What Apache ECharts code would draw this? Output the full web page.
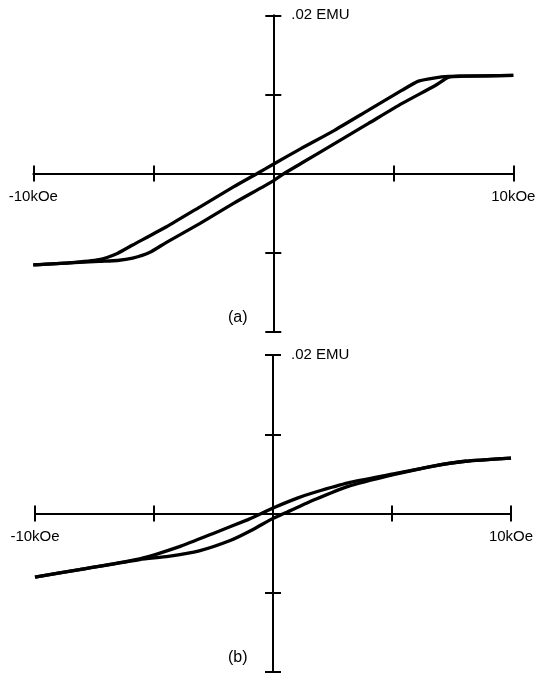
<!DOCTYPE html>
<html>
<head>
<meta charset="utf-8">
<script src="https://cdn.jsdelivr.net/npm/echarts@6/dist/echarts.min.js"></script>
<style>
html,body{margin:0;padding:0;background:#fff;}
#c{width:540px;height:673px;}
</style>
</head>
<body>
<div id="c"></div>
<script>
// Field H in kOe, moment M in EMU
const xTicks = [-10, -5, 0, 5, 10];
const xTickLabels = {'-10': '-10kOe', '10': '10kOe'};
const yTopLabel = '.02 EMU';
const panelLabels = ['(a)', '(b)'];

// Panel (a): descending (upper) branch
const aUpH = [-10, -8.5, -7.26, -6.5, -5.86, -4.45, -3.05, -1.66, -0.67, 0, 1.15, 2.55, 3.95, 5.35, 6.05, 6.75, 7.31, 7.87, 10];
const aUpM = [-0.01156, -0.0113, -0.0109, -0.0101, -0.00904, -0.00673, -0.00421, -0.00169, 0, 0.00117, 0.00315, 0.00546, 0.00798, 0.0105, 0.01168, 0.0121, 0.01227, 0.0123, 0.0124];
// Panel (a): ascending (lower) branch
const aLoH = [-10, -8.5, -7.26, -6.5, -5.86, -5.16, -4.45, -3.05, -1.66, 0, 0.45, 1.15, 2.55, 3.95, 5.35, 6.75, 7.31, 7.87, 10];
const aLoM = [-0.01156, -0.0113, -0.0111, -0.0110, -0.0107, -0.0100, -0.0087, -0.0063, -0.00378, -0.00093, 0, 0.00126, 0.00378, 0.0063, 0.00883, 0.01113, 0.01218, 0.0123, 0.0124];

// Panel (b): descending (upper) branch
const bUpH = [-10, -8.13, -5.6, -3.87, -2.46, -1.05, -0.49, 0, 1.05, 1.76, 3.16, 5.06, 6.68, 8.08, 10];
const bUpM = [-0.0080, -0.00706, -0.0057, -0.0041, -0.00244, -0.00076, 0, 0.0007, 0.00198, 0.00269, 0.00387, 0.005, 0.00597, 0.0066, 0.0070];
// Panel (b): ascending (lower) branch
const bLoH = [-10, -8.13, -5.6, -4.4, -3.1, -1.8, -0.9, 0, 0.45, 1.76, 3.16, 5.06, 6.68, 8.08, 10];
const bLoM = [-0.0080, -0.00708, -0.0058, -0.0054, -0.0047, -0.0034, -0.0021, -0.0006, 0, 0.00177, 0.00344, 0.0049, 0.00597, 0.0066, 0.0070];

const FONT = "'Liberation Sans', Arial, Helvetica, sans-serif";
const pair = (xs, ys) => xs.map((x, i) => [x, ys[i]]);

const grids = [
  {left: 33.3, right: 26.7, top: 15.3, height: 316.4, containLabel: false, outerBoundsMode: 'none'},
  {left: 35, right: 29, top: 355, height: 317.2, containLabel: false, outerBoundsMode: 'none'}
];
const gridW = [540 - 33.3 - 26.7, 540 - 35 - 29];

const xAxes = [], yAxes = [], series = [];
grids.forEach((g, gi) => {
  [0, 1].forEach(k => {
    // k=0: bottom axis carrying the line, downward ticks and labels, shifted up onto M=0
    // k=1: top axis at M=0 giving the upward half of the ticks
    xAxes.push({
      type: 'value', gridIndex: gi, min: -10, max: 10, interval: 5,
      position: k === 0 ? 'bottom' : 'top',
      offset: k === 0 ? -g.height / 2 : 0,
      axisLine: {show: k === 0, onZero: k === 1, lineStyle: {color: '#000', width: 2}},
      axisTick: {show: true, length: 8, lineStyle: {color: '#000', width: 2}},
      splitLine: {show: false},
      axisLabel: {
        show: k === 0, margin: 16, fontSize: 15, color: '#000', fontFamily: FONT,
        showMinLabel: true, showMaxLabel: true, hideOverlap: false,
        formatter: v => xTickLabels[String(Math.round(v))] || ''
      }
    });
    // k=0: left axis at H=0 with the line and leftward ticks
    // k=1: right axis shifted onto H=0, rightward ticks and the top label
    yAxes.push({
      type: 'value', gridIndex: gi, min: -0.02, max: 0.02, interval: 0.01,
      position: k === 0 ? 'left' : 'right',
      offset: k === 1 ? -gridW[gi] / 2 : 0,
      axisLine: {show: k === 0, onZero: k === 0, lineStyle: {color: '#000', width: 2}},
      axisTick: {show: true, length: 8, lineStyle: {color: '#000', width: 2}},
      splitLine: {show: false},
      axisLabel: {
        show: k === 1, margin: 18, fontSize: 15, color: '#000', fontFamily: FONT,
        showMinLabel: true, showMaxLabel: true, hideOverlap: false,
        formatter: v => Math.abs(v - 0.02) < 1e-9 ? yTopLabel : ''
      }
    });
  });
});

const curves = [
  [0, aUpH, aUpM], [0, aLoH, aLoM],
  [1, bUpH, bUpM], [1, bLoH, bLoM]
];
curves.forEach(([gi, xs, ys]) => {
  series.push({
    type: 'line', xAxisIndex: gi * 2, yAxisIndex: gi * 2,
    data: pair(xs, ys), showSymbol: false, symbol: 'none',
    smooth: 0.2,
    lineStyle: {color: '#000', width: 3.3},
    silent: true, animation: false
  });
});

const chart = echarts.init(document.getElementById('c'), null, {renderer: 'canvas'});
chart.setOption({
  backgroundColor: '#fff',
  animation: false,
  grid: grids,
  xAxis: xAxes,
  yAxis: yAxes,
  series: series,
  graphic: [
    {type: 'text', left: 228, top: 310, style: {text: panelLabels[0], fontSize: 16, fontFamily: FONT, fill: '#000'}},
    {type: 'text', left: 228, top: 650, style: {text: panelLabels[1], fontSize: 16, fontFamily: FONT, fill: '#000'}}
  ]
});
</script>
</body>
</html>
